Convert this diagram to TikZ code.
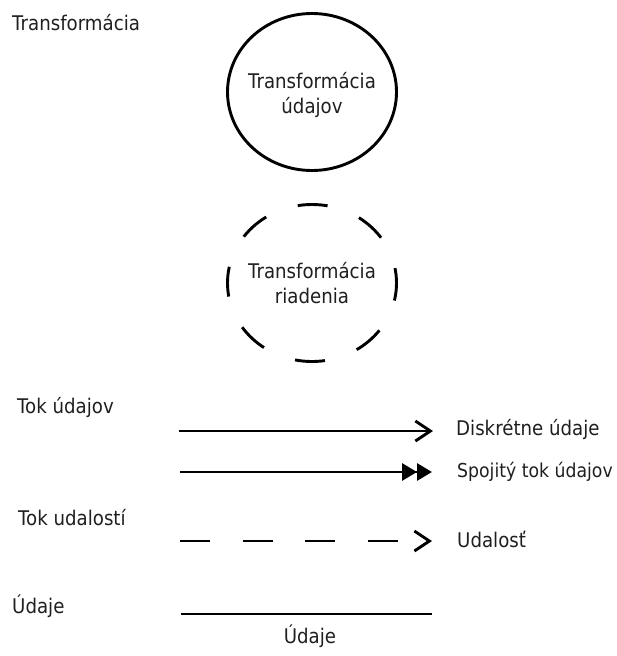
\documentclass[tikz,border=0pt]{standalone}
\usepackage{fontspec}
\setmainfont{DejaVu Sans}[FakeStretch=0.9]
\usetikzlibrary{shapes.geometric,arrows.meta}
\begin{document}
\begin{tikzpicture}[x=1pt,y=-1pt,
  txt/.style={font=\fontsize{20.2}{25}\selectfont, inner sep=0pt, text=black!88},
  bubble/.style={ellipse, draw, line width=2.9pt, minimum width=169pt, minimum height=157pt, inner sep=0pt},
  ctrl/.style={bubble, dash pattern=on 30pt off 33.7pt, dash phase=15pt},
  conn/.style={line width=2.9pt},
  barb/.style={-{Straight Barb[length=15pt,width=20pt]}},
  dbl/.style={-{Triangle[length=15pt,width=17pt,sep=0pt]Triangle[length=15pt,width=17pt]}},
]
\useasboundingbox (0,0) rectangle (616,656);

% title
\node[txt, anchor=base west] (title) at (12,30) {Transformácia};

% data transformation
\node[bubble] (c1) at (312,92) {};
\node[txt, anchor=base] (c1a) at (312,88) {Transformácia};
\node[txt, anchor=base] (c1b) at (312,113) {údajov};

% control transformation
\node[ctrl] (c2) at (312,283) {};
\node[txt, anchor=base] (c2a) at (312,278) {Transformácia};
\node[txt, anchor=base] (c2b) at (312,303) {riadenia};

% data flow
\node[txt, anchor=base west] (tok) at (17,413) {Tok údajov};
\coordinate (d1s) at (179,431);
\coordinate (d1e) at (433,431);
\draw[conn, barb] (d1s) -- (d1e);
\node[txt, anchor=base west] (disk) at (456,435) {Diskrétne údaje};

\coordinate (d2s) at (180,472);
\coordinate (d2e) at (432,472);
\draw[conn, dbl] (d2s) -- (d2e);
\node[txt, anchor=base west, font=\fontsize{19.2}{25}\selectfont] (spoj) at (457,477) {Spojitý tok údajov};

% event flow
\node[txt, anchor=base west] (tokud) at (18,525) {Tok udalostí};
\coordinate (es) at (180,541);
\coordinate (ee) at (432,541);
\draw[conn, dash pattern=on 30pt off 32.5pt, barb] (es) -- (ee);
\node[txt, anchor=base west] (udal) at (457,547) {Udalosť};

% data store
\node[txt, anchor=base west] (udaje) at (12,613) {Údaje};
\coordinate (ds) at (181,614);
\coordinate (de) at (432,614);
\draw[conn] (ds) -- (de);
\node[txt, anchor=base] (udajel) at (310,643) {Údaje};
\end{tikzpicture}
\end{document}
